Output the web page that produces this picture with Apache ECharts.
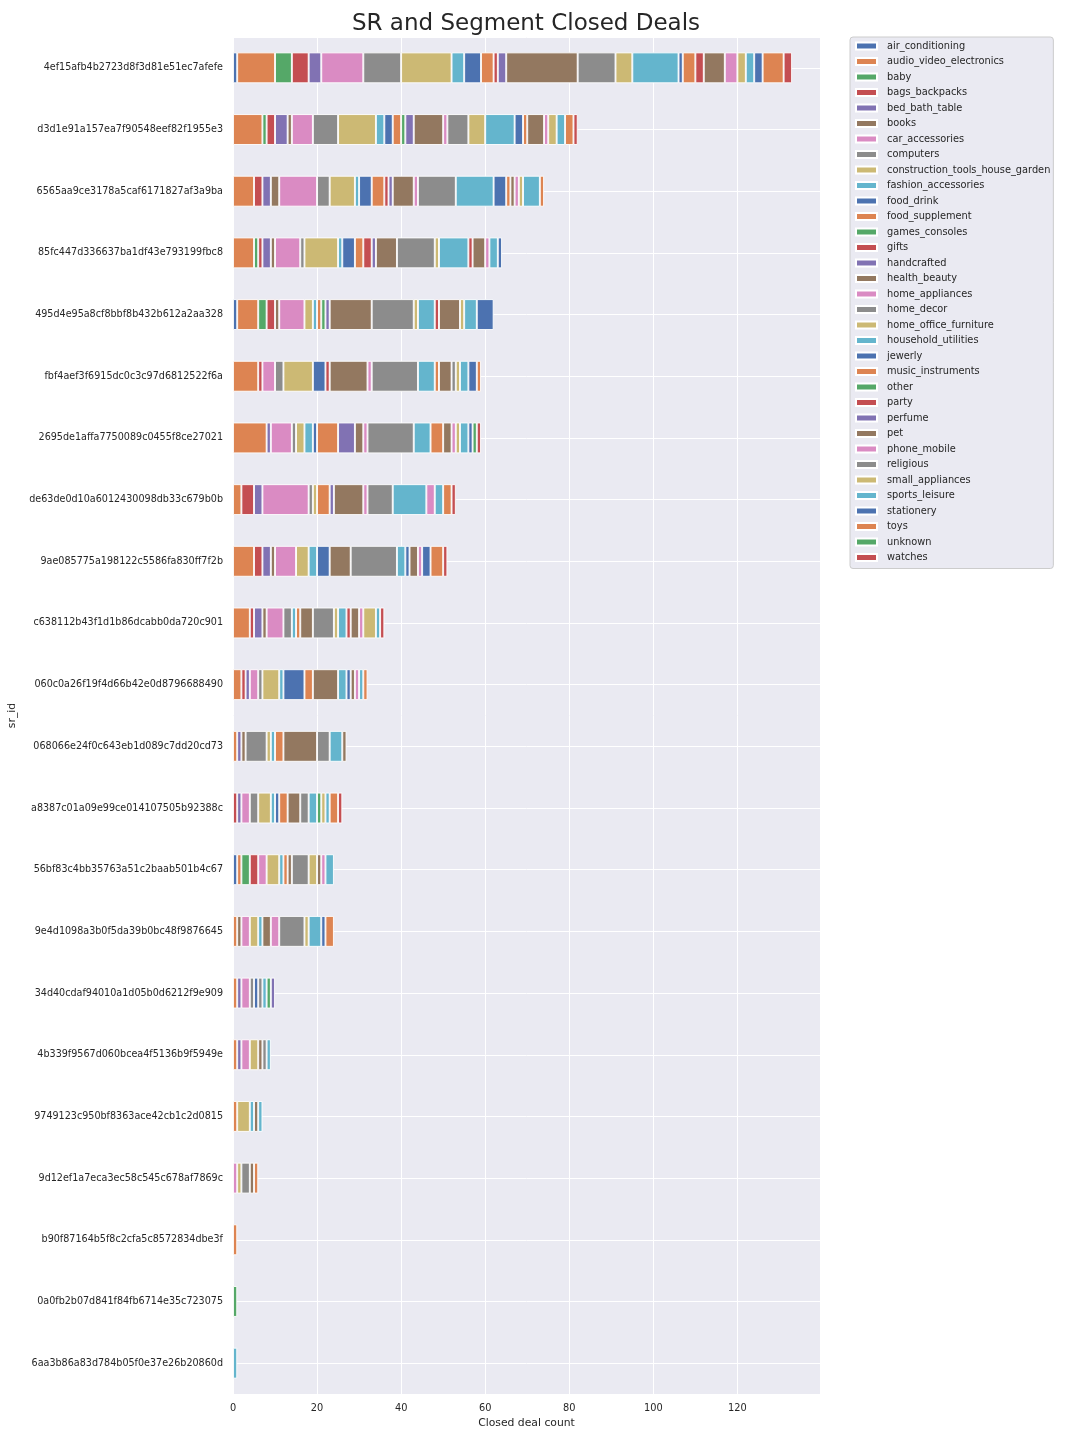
<!DOCTYPE html>
<html>
<head>
<meta charset="utf-8">
<script src="https://cdn.jsdelivr.net/npm/echarts@6/dist/echarts.min.js"></script>
<style>
html,body{margin:0;padding:0;background:#fff;}
#chart{width:1080px;height:1440px;}
</style>
</head>
<body>
<div id="chart"></div>
<script>
// Category (segment) names, in stacking order
const segments = ['air_conditioning','audio_video_electronics','baby','bags_backpacks','bed_bath_table','books','car_accessories','computers','construction_tools_house_garden','fashion_accessories','food_drink','food_supplement','games_consoles','gifts','handcrafted','health_beauty','home_appliances','home_decor','home_office_furniture','household_utilities','jewerly','music_instruments','other','party','perfume','pet','phone_mobile','religious','small_appliances','sports_leisure','stationery','toys','unknown','watches'];

// SR ids, top to bottom
const srIds = ['4ef15afb4b2723d8f3d81e51ec7afefe','d3d1e91a157ea7f90548eef82f1955e3','6565aa9ce3178a5caf6171827af3a9ba','85fc447d336637ba1df43e793199fbc8','495d4e95a8cf8bbf8b432b612a2aa328','fbf4aef3f6915dc0c3c97d6812522f6a','2695de1affa7750089c0455f8ce27021','de63de0d10a6012430098db33c679b0b','9ae085775a198122c5586fa830ff7f2b','c638112b43f1d1b86dcabb0da720c901','060c0a26f19f4d66b42e0d8796688490','068066e24f0c643eb1d089c7dd20cd73','a8387c01a09e99ce014107505b92388c','56bf83c4bb35763a51c2baab501b4c67','9e4d1098a3b0f5da39b0bc48f9876645','34d40cdaf94010a1d05b0d6212f9e909','4b339f9567d060bcea4f5136b9f5949e','9749123c950bf8363ace42cb1c2d0815','9d12ef1a7eca3ec58c545c678af7869c','b90f87164b5f8c2cfa5c8572834dbe3f','0a0fb2b07d841f84fb6714e35c723075','6aa3b86a83d784b05f0e37e26b20860d'];

// Closed deals per segment for each SR (same order as segments)
const sr01 = [1,9,4,4,3,0,10,9,12,3,4,3,0,1,2,17,0,9,4,11,1,3,0,2,0,5,3,0,2,2,2,5,0,2];
const sr02 = [0,7,1,2,3,1,5,6,9,2,2,2,1,0,2,7,1,5,4,7,2,1,0,0,0,4,1,0,2,2,0,2,0,1];
const sr03 = [0,5,0,2,2,2,9,3,6,1,3,3,0,1,1,5,1,9,0,9,3,1,0,0,0,1,1,0,1,4,0,1,0,0];
const sr04 = [0,5,1,1,2,1,6,1,8,1,3,2,0,2,1,5,0,9,1,7,0,0,0,1,0,3,1,0,0,2,1,0,0,0];
const sr05 = [1,5,2,2,0,1,6,0,2,1,0,1,1,0,1,10,0,10,1,4,0,0,0,1,0,5,0,0,1,3,4,0,0,0];
const sr06 = [0,6,0,1,0,0,3,2,7,0,3,0,0,1,0,9,1,11,0,4,0,1,0,0,0,3,0,1,1,2,2,1,0,0];
const sr07 = [0,8,0,0,1,0,5,1,2,2,1,5,0,0,4,2,1,11,0,4,0,3,0,0,0,2,1,0,1,2,1,0,1,1];
const sr08 = [0,2,0,3,2,0,11,1,1,0,0,3,0,0,1,7,1,6,0,8,0,0,0,0,0,0,2,0,0,2,0,2,0,1];
const sr09 = [0,5,0,2,2,1,5,0,3,2,3,0,0,0,0,5,0,11,0,2,1,0,0,0,0,2,1,0,0,0,2,3,0,1];
const sr10 = [0,4,0,1,2,1,4,2,0,1,0,1,0,0,0,3,0,5,1,2,0,0,0,1,0,2,1,0,3,1,0,0,0,1];
const sr11 = [0,2,0,1,1,0,2,1,4,1,5,2,0,0,0,6,0,0,0,2,1,0,0,0,0,1,1,0,0,1,0,1,0,0];
const sr12 = [0,1,0,0,1,1,0,5,1,1,0,2,0,0,0,8,0,3,0,3,0,0,0,0,0,1,0,0,0,0,0,0,0,0];
const sr13 = [0,0,0,1,1,0,2,2,3,1,1,2,0,0,0,3,0,2,0,2,0,0,1,0,0,0,0,0,1,1,0,2,0,1];
const sr14 = [1,1,2,2,0,0,2,0,3,1,0,1,0,0,0,1,0,4,2,0,0,0,0,0,0,1,1,0,0,2,0,0,0,0];
const sr15 = [0,1,0,0,0,1,2,0,2,1,0,0,0,0,0,2,2,6,1,0,0,0,0,0,0,0,0,0,0,3,1,2,0,0];
const sr16 = [0,1,0,0,1,0,2,1,0,0,1,0,0,0,0,0,0,1,0,1,0,0,1,0,1,0,0,0,0,0,0,0,0,0];
const sr17 = [0,1,0,0,1,0,2,0,2,0,0,0,0,0,0,1,0,1,0,1,0,0,0,0,0,0,0,0,0,0,0,0,0,0];
const sr18 = [0,1,0,0,0,0,0,0,3,1,0,0,0,0,0,1,0,0,0,1,0,0,0,0,0,0,0,0,0,0,0,0,0,0];
const sr19 = [0,0,0,0,0,0,1,0,1,0,0,0,0,0,0,0,0,2,0,0,0,0,0,0,0,1,0,0,0,0,0,1,0,0];
const sr20 = [0,1,0,0,0,0,0,0,0,0,0,0,0,0,0,0,0,0,0,0,0,0,0,0,0,0,0,0,0,0,0,0,0,0];
const sr21 = [0,0,1,0,0,0,0,0,0,0,0,0,0,0,0,0,0,0,0,0,0,0,0,0,0,0,0,0,0,0,0,0,0,0];
const sr22 = [0,0,0,0,0,0,0,0,0,0,0,0,0,0,0,0,0,0,0,1,0,0,0,0,0,0,0,0,0,0,0,0,0,0];

const xTicks = [0,20,40,60,80,100,120];

const rows = [sr01,sr02,sr03,sr04,sr05,sr06,sr07,sr08,sr09,sr10,sr11,sr12,sr13,sr14,sr15,sr16,sr17,sr18,sr19,sr20,sr21,sr22];
const palette = ['#4C72B0','#DD8452','#55A868','#C44E52','#8172B3','#937860','#DA8BC3','#8C8C8C','#CCB974','#64B5CD'];

const maxTotal = Math.max(...rows.map(r => r.reduce((a,b)=>a+b,0)));
const xMax = maxTotal * 1.05;

const font = 'DejaVu Sans';
const txt = '#262626';

const series = segments.map((name, j) => ({
  name: name,
  type: 'bar',
  stack: 'total',
  yAxisIndex: 0,
  barWidth: '50%',
  itemStyle: { color: palette[j % palette.length], borderColor: '#ffffff', borderWidth: 0.9 },
  emphasis: { disabled: true },
  data: rows.map(r => (r[j] === 0 ? '-' : r[j]))
}));

const chart = echarts.init(document.getElementById('chart'), null, { renderer: 'canvas' });
chart.setOption({
  animation: false,
  backgroundColor: '#ffffff',
  color: palette,
  title: {
    text: 'SR and Segment Closed Deals',
    left: 521,
    top: 8,
    textAlign: 'center',
    textStyle: { fontFamily: font, fontSize: 23, fontWeight: 'normal', color: txt }
  },
  grid: {
    left: 233, right: 260, top: 37, bottom: 46,
    containLabel: false,
    outerBoundsMode: 'none',
    show: true, backgroundColor: '#EAEAF2', borderWidth: 0
  },
  legend: {
    orient: 'vertical',
    left: 850,
    top: 37,
    padding: [3, 3, 5, 5],
    backgroundColor: '#EAEAF2',
    borderColor: '#CCCCCC',
    borderWidth: 1,
    borderRadius: 3,
    icon: 'rect',
    itemWidth: 21,
    itemHeight: 7,
    itemGap: 3.5,
    textStyle: { fontFamily: font, fontSize: 9.8, color: txt, lineHeight: 12, padding: [0, 0, 0, 5] },
    data: segments
  },
  xAxis: {
    type: 'value',
    min: 0,
    max: xMax,
    interval: 20,
    name: 'Closed deal count',
    nameLocation: 'middle',
    nameGap: 22,
    nameTextStyle: { fontFamily: font, fontSize: 10.8, color: txt },
    axisLine: { show: false },
    axisTick: { show: false },
    axisLabel: {
      fontFamily: font, fontSize: 9.8, color: txt, margin: 9, showMaxLabel: false,
      formatter: v => (xTicks.indexOf(v) >= 0 ? String(v) : '')
    },
    splitLine: { show: true, lineStyle: { color: '#ffffff', width: 1 } }
  },
  yAxis: [
    {
      type: 'category',
      data: srIds,
      inverse: true,
      name: 'sr_id',
      nameLocation: 'middle',
      nameGap: 215,
      nameRotate: 90,
      nameMoveOverlap: false,
      nameTextStyle: { fontFamily: font, fontSize: 10.8, color: txt },
      axisLine: { show: false },
      axisTick: { show: false },
      axisLabel: { fontFamily: font, fontSize: 9.6, color: txt, margin: 10 },
      splitLine: { show: false }
    },
    {
      type: 'value',
      min: -0.5,
      max: srIds.length - 0.5,
      inverse: true,
      splitNumber: srIds.length,
      minInterval: 1,
      maxInterval: 1,
      position: 'left',
      axisLine: { show: false },
      axisTick: { show: false },
      axisLabel: { show: false },
      splitLine: { show: true, lineStyle: { color: '#ffffff', width: 1 } }
    }
  ],
  series: series
});
</script>
</body>
</html>
